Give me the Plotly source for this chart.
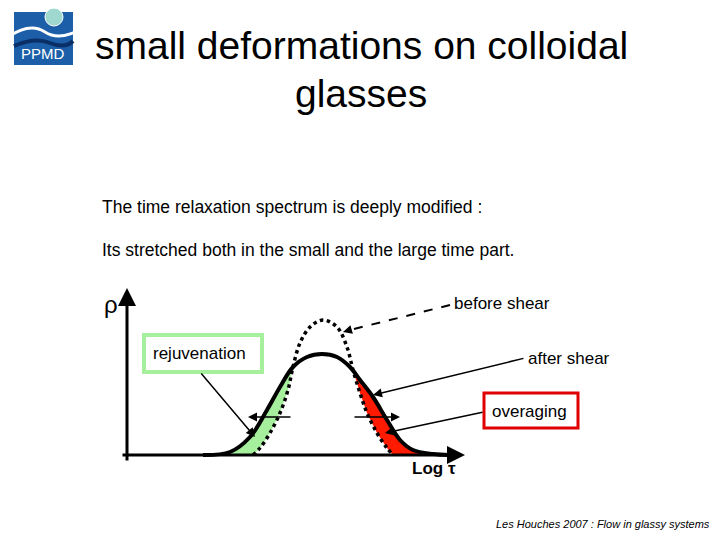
import plotly.graph_objects as go

# schematic curves (pixel-like units, y grows downward)
after_x = [203, 230, 250, 267, 280, 293, 307, 322, 337, 350, 360, 373, 387, 400, 413, 433, 450]
after_y = [455, 452, 437, 410, 387, 367, 357, 354, 357, 367, 380, 397, 420, 440, 450, 454, 455]
before_x = [253, 260, 270, 280, 288, 293, 300, 310, 323, 337, 347, 353, 360, 367, 377, 387, 393]
before_y = [455, 448, 433, 413, 390, 367, 343, 327, 320, 327, 347, 370, 393, 413, 433, 448, 455]

green_x = [230, 250, 267, 280, 293, 288, 280, 270, 260, 253, 230]
green_y = [452, 437, 410, 387, 367, 390, 413, 433, 448, 455, 455]
red_x = [353, 360, 367, 377, 387, 393, 433, 413, 400, 387, 373, 360]
red_y = [370, 393, 413, 433, 448, 455, 454, 450, 440, 420, 397, 380]

fig = go.Figure()
fig.add_trace(go.Scatter(x=green_x, y=green_y, fill='toself', fillcolor='#a6ef9c',
                         line=dict(width=0), mode='lines'))
fig.add_trace(go.Scatter(x=red_x, y=red_y, fill='toself', fillcolor='#ff1a00',
                         line=dict(width=0), mode='lines'))
fig.add_trace(go.Scatter(x=before_x, y=before_y, mode='lines', line_shape='spline',
                         line=dict(color='black', width=3.5, dash='dot')))
fig.add_trace(go.Scatter(x=after_x, y=after_y, mode='lines', line_shape='spline',
                         line=dict(color='black', width=4)))


def arrow(x0, y0, x1, y1, w=1.5):
    fig.add_annotation(x=x1, y=y1, ax=x0, ay=y0, xref='x', yref='y', axref='x', ayref='y',
                       showarrow=True, arrowhead=2, arrowsize=1.2, arrowwidth=w,
                       arrowcolor='black', text='')


# axes of the sketch
arrow(127, 462, 127, 288, w=3)
arrow(121, 455, 465, 455, w=3)
# stretching arrows
arrow(292, 417, 248, 417)
arrow(353, 417, 400, 417)
# label pointers
fig.add_shape(type='line', x0=450, y0=305, x1=350, y1=330,
              line=dict(color='black', width=2, dash='dash'))
arrow(350, 330, 343, 332)
arrow(525, 358, 373, 395)
arrow(200, 372, 255, 437)
arrow(484, 412, 385, 433)

fig.add_shape(type='rect', x0=144, y0=335, x1=262, y1=372,
              line=dict(color='#a6ef9c', width=4), fillcolor='white')
fig.add_shape(type='rect', x0=484, y0=393, x1=578, y1=428,
              line=dict(color='#e00000', width=3), fillcolor='white')

# logo
fig.add_shape(type='rect', x0=14, y0=12, x1=73, y1=65, fillcolor='#1c5fa8', line_width=0)
fig.add_shape(type='path', path='M 8 37 Q 30 22 45 32 T 85 27', line=dict(color='white', width=3))
fig.add_shape(type='path', path='M 14 46 Q 35 37 50 43 T 73 41', line=dict(color='#0a2f66', width=4))
fig.add_shape(type='circle', x0=45, y0=8, x1=63, y1=26, fillcolor='#9fd8cf',
              line=dict(color='white', width=1))

f = 'Arial, Liberation Sans'
texts = [
    (361, 45, 'small deformations on colloidal', 39, 'center', False, False),
    (361, 93, 'glasses', 39, 'center', False, False),
    (100, 207, 'The time relaxation spectrum is deeply modified :', 17.5, 'left', False, False),
    (100, 250, 'Its stretched both in the small and the large time part.', 17.5, 'left', False, False),
    (452, 303, 'before shear', 17, 'left', False, False),
    (526, 358, 'after shear', 17, 'left', False, False),
    (151, 353, 'rejuvenation', 17, 'left', False, False),
    (490, 411, 'overaging', 17, 'left', False, False),
    (410, 468, 'Log τ', 17, 'left', True, False),
    (102, 304, 'ρ', 24, 'left', False, False),
    (43, 53, 'PPMD', 15, 'center', False, False),
]
for x, y, t, s, al, b, it in texts:
    col = 'white' if t == 'PPMD' else 'black'
    if b:
        t = '<b>' + t + '</b>'
    fig.add_annotation(x=x, y=y, text=t, showarrow=False, xanchor=al, yanchor='middle',
                       font=dict(family=f, size=s, color=col))

fig.add_annotation(x=1, y=0, xref='paper', yref='paper', xanchor='right', yanchor='bottom',
                   text='<i>Les Houches 2007 : Flow in glassy systems</i>', showarrow=False,
                   font=dict(family=f, size=11, color='black'))

# the page has an 8px body margin: shrink the figure and shift ranges so units stay pixels
fig.update_layout(width=704, height=524, margin=dict(l=0, r=0, t=0, b=0),
                  plot_bgcolor='white', paper_bgcolor='white', showlegend=False,
                  xaxis=dict(range=[8, 712], visible=False),
                  yaxis=dict(range=[532, 8], visible=False))
fig.write_html("out.html")
